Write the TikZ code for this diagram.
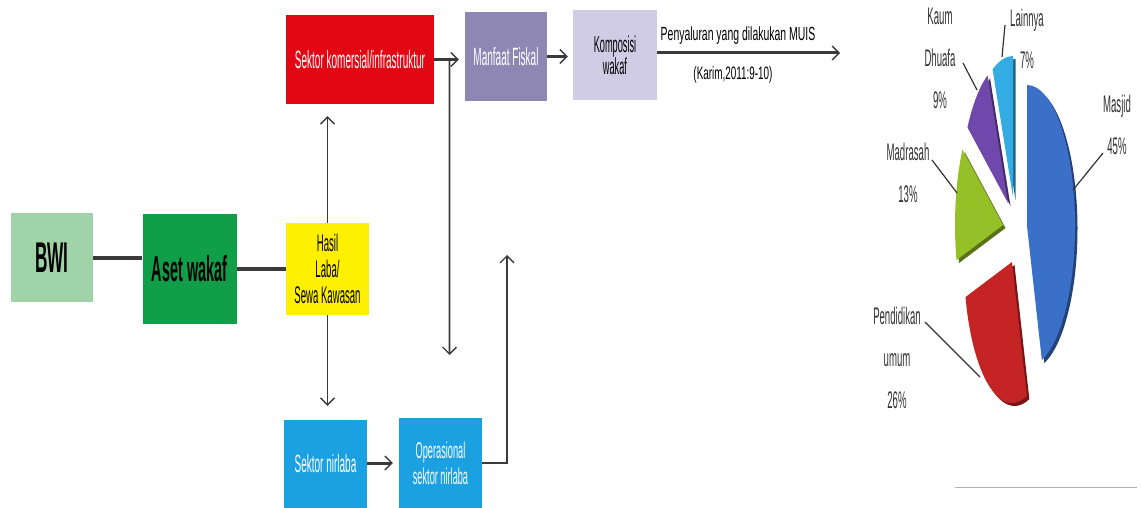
\documentclass[tikz,border=0pt]{standalone}
\usepackage{fontspec}
\setmainfont{Liberation Sans}[FakeStretch=0.4]
\newfontfamily\condB{Liberation Sans}[FakeStretch=0.55]
\usetikzlibrary{arrows.meta,calc}
\definecolor{cBWI}{RGB}{160,212,168}
\definecolor{cAset}{RGB}{16,158,72}
\definecolor{cYel}{RGB}{255,240,0}
\definecolor{cRed}{RGB}{227,6,19}
\definecolor{cPur}{RGB}{142,135,180}
\definecolor{cLav}{RGB}{208,204,230}
\definecolor{cBlue}{RGB}{27,160,226}
\definecolor{cLine}{RGB}{58,58,58}
\definecolor{pBlue}{RGB}{58,112,200}
\definecolor{pRed}{RGB}{196,36,36}
\definecolor{pGreen}{RGB}{150,192,40}
\definecolor{pPur}{RGB}{112,72,172}
\definecolor{pLBlue}{RGB}{50,172,226}
\definecolor{pTxt}{RGB}{50,50,50}
\tikzset{
  box/.style={draw=none, inner sep=0pt, align=center},
  conn/.style={draw=cLine, line width=3pt},
  vconn/.style={draw=cLine, line width=1.8pt},
  arr/.style={-{Straight Barb[length=7pt,width=14pt,line width=1.3pt]}},
  pielbl/.style={text=pTxt, align=center, inner sep=0pt, font=\fontsize{24}{42}\selectfont},
  leader/.style={draw=pTxt, line width=1.2pt},
}
\newcommand{\pieslice}[5]{% vertex, start, end, colour, shadow colour
  \fill[#5] ($(#1)+(2.5,3)$) -- ++(#2:48 and 141) arc[start angle=#2, end angle=#3, x radius=48, y radius=141] -- cycle;
  \fill[#4] (#1) -- ++(#2:48 and 141) arc[start angle=#2, end angle=#3, x radius=48, y radius=141] -- cycle;
}
\begin{document}
\begin{tikzpicture}[x=1pt,y=-1pt]
\useasboundingbox (0,0) rectangle (1141,508);
\begin{scope}
\clip (0,0) rectangle (1141,508);
% boxes
\node[box, fill=cBWI, minimum width=82, minimum height=89, font=\bfseries\fontsize{43}{46}\selectfont] (bwi) at (52,257.5) {BWI};
\node[box, fill=cAset, minimum width=94, minimum height=110, font=\bfseries\fontsize{36}{40}\selectfont] (aset) at (189.5,269) {Aset wakaf};
\node[box, fill=cYel, minimum width=83, minimum height=92, font=\fontsize{24}{26}\selectfont] (hasil) at (327.5,269) {Hasil\\Laba/\\Sewa Kawasan};
\node[box, fill=cRed, text=white, minimum width=148, minimum height=89, font=\fontsize{25}{28}\selectfont] (red) at (360,59.5) {Sektor komersial/infrastruktur};
\node[box, fill=cPur, text=white, minimum width=82, minimum height=89, font=\fontsize{25}{28}\selectfont] (manf) at (506,56.5) {Manfaat Fiskal};
\node[box, fill=cLav, minimum width=84, minimum height=90, font=\fontsize{23}{20}\selectfont] (komp) at (615,55) {Komposisi\\wakaf};
\node[box, fill=cBlue, text=white, minimum width=83, minimum height=88, font=\fontsize{25}{28}\selectfont] (snl) at (325.5,464) {Sektor nirlaba};
\node[box, fill=cBlue, text=white, minimum width=83, minimum height=90, font=\fontsize{23}{26}\selectfont] (ops) at (440.5,463) {Operasional\\sektor nirlaba};
\end{scope}
% coordinates
\coordinate (j1) at ($(red.east)!0.5!(manf.west)$);
\coordinate (d1) at (449.5,355);
\coordinate (up1) at (507,255);
\coordinate (end1) at (840,53);
% connectors
\draw[conn, line width=4pt] (bwi.east) -- (aset.west |- bwi.east);
\draw[conn, line width=4pt] (aset.east |- hasil.west) -- (hasil.west);
\draw[vconn, arr, shorten >=12pt] (hasil.north) -- (hasil.north |- red.south);
\draw[vconn, arr, shorten >=14pt] (hasil.south) -- (hasil.south |- snl.north);
\draw[conn, arr, shorten >=6pt] (red.east) -- (manf.west |- red.east);
\draw[vconn, arr] (j1) -- (d1);
\draw[conn, arr, shorten >=5pt] (manf.east) -- (komp.west |- manf.east);
\draw[conn, arr] (komp.east |- end1) -- (end1);
\draw[conn, arr, shorten >=6pt] (snl.east |- ops.west) -- (ops.west);
\draw[vconn, line width=2.2pt, arr] (ops.east) -| (up1);
% labels on the long arrow
\node[inner sep=0pt, font=\condB\fontsize{19}{22}\selectfont] (lbl1) at (738,36) {Penyaluran yang dilakukan MUIS};
\node[inner sep=0pt, font=\condB\fontsize{18}{22}\selectfont] (lbl2) at (733,75) {(Karim,2011:9-10)};
% pie chart
\pieslice{1027,226}{-90}{72}{pBlue}{pBlue!60!black}
\pieslice{1012,262}{72}{165.6}{pRed}{pRed!60!black}
\pieslice{1003,225}{165.6}{212.4}{pGreen}{pGreen!60!black}
\pieslice{1008,203}{212.4}{244.8}{pPur}{pPur!60!black}
\pieslice{1013,197}{244.8}{270}{pLBlue}{pLBlue!60!black}
% pie labels
\node[pielbl] (lmas) at (1117,125) {Masjid\\45\%};
\node[pielbl] (lmad) at (908,173) {Madrasah\\13\%};
\node[pielbl] (lkau) at (940,58) {Kaum\\Dhuafa\\9\%};
\node[pielbl] (llai) at (1027,39) {Lainnya\\7\%};
\node[pielbl] (lpen) at (897,358) {Pendidikan\\umum\\26\%};
% leaders
\coordinate (m1) at (1103,153); \coordinate (m2) at (1073,190);
\coordinate (a1) at (932,160); \coordinate (a2) at (957,193);
\coordinate (k1) at (963,63); \coordinate (k2) at (977,90);
\coordinate (l1) at (1005,25); \coordinate (l2) at (1002,57);
\coordinate (p1) at (925,322); \coordinate (p2) at (980,377);
\draw[leader] (m1) -- (m2);
\draw[leader] (a1) -- (a2);
\draw[leader] (k1) -- (k2);
\draw[leader] (l1) -- (l2);
\draw[leader] (p1) -- (p2);
% base line
\coordinate (b1) at (955,487); \coordinate (b2) at (1137,487);
\draw[gray!60, line width=0.8pt] (b1) -- (b2);
\end{tikzpicture}
\end{document}
